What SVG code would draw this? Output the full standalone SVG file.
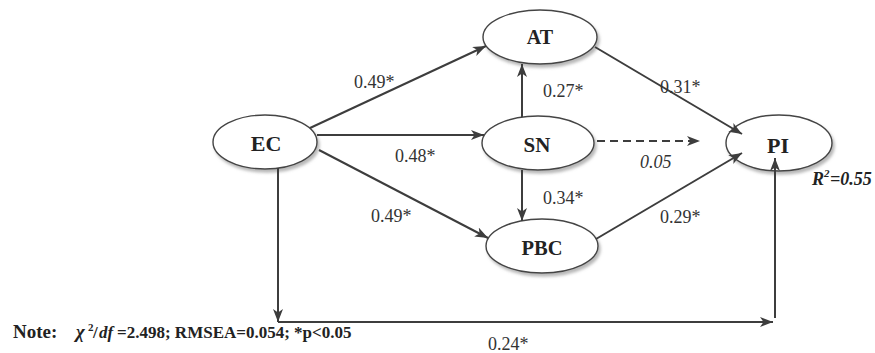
<svg xmlns="http://www.w3.org/2000/svg" width="875" height="353" viewBox="0 0 875 353">
<style>
.node ellipse{fill:#fff;stroke:#444;stroke-width:1.4;filter:url(#sh)}
.node text{font-family:"Liberation Serif","DejaVu Serif",serif;font-weight:bold;fill:#222;text-anchor:middle}
.conn line{stroke:#3d3d3d;stroke-width:2;fill:none}
.lbl{font-family:"Liberation Serif","DejaVu Serif",serif;font-size:18px;fill:#333}
.note{font-family:"Liberation Serif","DejaVu Serif",serif;font-weight:bold;fill:#222}
</style>
<defs>
<filter id="sh" x="-20%" y="-20%" width="150%" height="160%">
<feDropShadow dx="2" dy="3" stdDeviation="1.5" flood-color="#888" flood-opacity="0.6"/>
</filter>
<marker id="ah" markerUnits="userSpaceOnUse" markerWidth="14" markerHeight="11" refX="13" refY="5" orient="auto">
<path d="M0,0 L13,5 L0,10 L3.5,5 Z" fill="#3d3d3d"/>
</marker>
</defs>
<rect width="875" height="353" fill="#fff"/>
<g id="AT" class="node"><ellipse cx="540" cy="37" rx="57" ry="27"/><text x="540" y="44" font-size="20">AT</text></g>
<g id="EC" class="node"><ellipse cx="265" cy="142" rx="52" ry="27"/><text x="266" y="151" font-size="22">EC</text></g>
<g id="SN" class="node"><ellipse cx="538" cy="143" rx="56" ry="27"/><text x="537" y="152" font-size="21">SN</text></g>
<g id="PBC" class="node"><ellipse cx="542" cy="246" rx="56" ry="27"/><text x="542" y="255" font-size="20.5">PBC</text></g>
<g id="PI" class="node"><ellipse cx="779" cy="143" rx="53" ry="28"/><text x="778" y="153" font-size="22">PI</text></g>
<g id="connectors" class="conn">
<line x1="310" y1="128" x2="486" y2="46" marker-end="url(#ah)"/>
<line x1="317" y1="135" x2="484" y2="135" marker-end="url(#ah)"/>
<line x1="319" y1="150" x2="488" y2="238" marker-end="url(#ah)"/>
<line x1="522" y1="117" x2="522" y2="64" marker-end="url(#ah)"/>
<line x1="522" y1="170" x2="522" y2="221" marker-end="url(#ah)"/>
<line x1="595" y1="47" x2="742" y2="134" marker-end="url(#ah)"/>
<line x1="597" y1="141" x2="700" y2="141" stroke-dasharray="8,5" marker-end="url(#ah)"/>
<line x1="596" y1="239" x2="742" y2="153" marker-end="url(#ah)"/>
<line x1="278" y1="168" x2="278" y2="322" marker-end="url(#ah)"/>
<line x1="278" y1="322" x2="773" y2="322" marker-end="url(#ah)"/>
<line x1="775" y1="318" x2="775" y2="158" marker-end="url(#ah)"/>
</g>
<g id="labels">
<text class="lbl" x="354" y="88">0.49*</text>
<text class="lbl" x="395" y="162">0.48*</text>
<text class="lbl" x="371" y="222">0.49*</text>
<text class="lbl" x="543" y="97">0.27*</text>
<text class="lbl" x="543" y="204">0.34*</text>
<text class="lbl" x="660" y="93">0.31*</text>
<text class="lbl" x="640" y="168" font-style="italic">0.05</text>
<text class="lbl" x="660" y="223">0.29*</text>
<text class="lbl" x="488" y="350" font-size="12">0.24*</text>
<text class="note" x="812" y="185" font-size="18" font-style="italic">R<tspan x="824" y="177" font-size="11">2</tspan><tspan x="830" y="185">=0.55</tspan></text>
<text class="note" x="13" y="338" font-size="19">Note:<tspan x="76" font-style="italic">χ</tspan><tspan x="88" y="331" font-size="11">2</tspan><tspan x="93" y="338" font-size="17">/</tspan><tspan x="99" font-size="17" font-style="italic">df</tspan><tspan x="117" font-size="17">=2.498; RMSEA=0.054; *p&lt;0.05</tspan></text>
</g>
</svg>
